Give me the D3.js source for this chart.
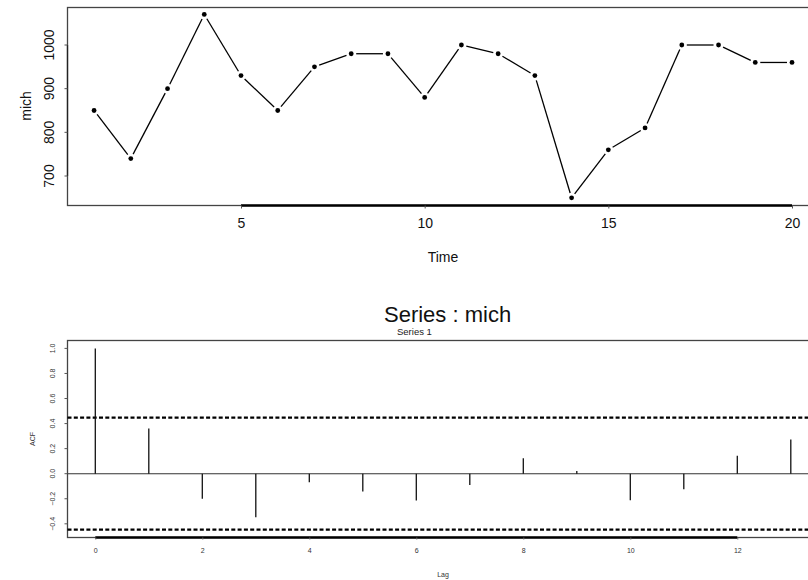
<!DOCTYPE html>
<html>
<head>
<meta charset="utf-8">
<script src="https://cdn.jsdelivr.net/npm/d3@7"></script>
<style>
  html, body { margin: 0; padding: 0; background: #fff; }
  svg { display: block; font-family: "Liberation Sans", Arial, Helvetica, sans-serif; }
</style>
</head>
<body>
<svg id="chart" width="808" height="580"></svg>
<script>
// Michelson speed-of-light measurements (first 20 runs, km/s minus 299000)
const times = d3.range(1, 21);
const mich = [850, 740, 900, 1070, 930, 850, 950, 980, 980, 880,
              1000, 980, 930, 650, 760, 810, 1000, 1000, 960, 960];
const timeTicks = [5, 10, 15, 20];
const michTicks = [700, 800, 900, 1000];

// Sample autocorrelations of the series by lag
const lags = d3.range(0, 14);
const acf = [1.0, 0.360, -0.199, -0.347, -0.068, -0.142, -0.213,
             -0.090, 0.124, 0.021, -0.211, -0.124, 0.144, 0.273];
const lagTicks = [0, 2, 4, 6, 8, 10, 12];
const acfTicks = [-0.4, -0.2, 0.0, 0.2, 0.4, 0.6, 0.8, 1.0];
const confBound = 0.447;

const svg = d3.select("#chart");

// ---------- upper panel: the time series ----------
const boxT = { left: 67.5, right: 840, top: 7.5, bottom: 205.5 };
const xT = d3.scaleLinear().domain([5, 20]).range([241, 792]);
const yT = d3.scaleLinear().domain([700, 1000]).range([176, 45]);

const gT = svg.append("g");

gT.append("rect")
  .attr("x", boxT.left).attr("y", boxT.top)
  .attr("width", boxT.right - boxT.left).attr("height", boxT.bottom - boxT.top)
  .attr("fill", "none").attr("stroke", "#444").attr("stroke-width", 1.3);

// bottom axis: thick line spanning the ticks
const axTB = d3.axisBottom(xT).tickValues(timeTicks).tickSize(3).tickPadding(10)
  .tickFormat(d3.format("d"));
const gxT = gT.append("g").attr("transform", `translate(0,${boxT.bottom})`).call(axTB);
gxT.select(".domain").attr("d", `M${xT(timeTicks[0])},0H${xT(timeTicks[timeTicks.length - 1])}`)
  .attr("stroke", "#000").attr("stroke-width", 2.4);
gxT.selectAll(".tick line").attr("stroke", "#555");
gxT.selectAll(".tick text").attr("font-size", 14).attr("fill", "#111")
  .attr("font-family", "Liberation Sans, Arial, sans-serif");

// left axis: rotated labels
const gyT = gT.append("g").attr("transform", `translate(${boxT.left},0)`);
gyT.append("path")
  .attr("d", `M0,${yT(michTicks[0])}V${yT(michTicks[michTicks.length - 1])}`)
  .attr("stroke", "#222").attr("stroke-width", 1.3);
michTicks.forEach(v => {
  gyT.append("line").attr("x1", -3).attr("x2", 0).attr("y1", yT(v)).attr("y2", yT(v))
    .attr("stroke", "#555");
  gyT.append("text")
    .attr("transform", `translate(-14,${yT(v)}) rotate(-90)`)
    .attr("text-anchor", "middle").attr("font-size", 14).attr("fill", "#111")
    .text(v);
});

gT.append("text").attr("x", 443).attr("y", 262).attr("text-anchor", "middle")
  .attr("font-size", 14).attr("fill", "#111").text("Time");
gT.append("text").attr("transform", "translate(31,106) rotate(-90)")
  .attr("text-anchor", "middle").attr("font-size", 14).attr("fill", "#111").text("mich");

// connecting segments with a gap around each point
const pts = times.map((t, i) => [xT(t), yT(mich[i])]);
const gap = 5;
const segs = [];
for (let i = 0; i < pts.length - 1; i++) {
  const [x1, y1] = pts[i], [x2, y2] = pts[i + 1];
  const len = Math.hypot(x2 - x1, y2 - y1);
  if (len <= 2 * gap) continue;
  const ux = (x2 - x1) / len, uy = (y2 - y1) / len;
  segs.push([x1 + ux * gap, y1 + uy * gap, x2 - ux * gap, y2 - uy * gap]);
}
gT.append("g").selectAll("line").data(segs).join("line")
  .attr("x1", d => d[0]).attr("y1", d => d[1]).attr("x2", d => d[2]).attr("y2", d => d[3])
  .attr("stroke", "#000").attr("stroke-width", 1.3);
gT.append("g").selectAll("circle").data(times).join("circle")
  .attr("cx", (t) => xT(t)).attr("cy", (t, i) => yT(mich[i])).attr("r", 2.4)
  .attr("fill", "#000");

// ---------- lower panel: the autocorrelation function ----------
const boxB = { left: 67.5, right: 840, top: 340.5, bottom: 537.5 };
const xB = d3.scaleLinear().domain([0, 12]).range([95.3, 737.3]);
const yB = d3.scaleLinear().domain([0, 1]).range([473.7, 348.4]);

const gB = svg.append("g");

gB.append("rect")
  .attr("x", boxB.left).attr("y", boxB.top)
  .attr("width", boxB.right - boxB.left).attr("height", boxB.bottom - boxB.top)
  .attr("fill", "none").attr("stroke", "#444").attr("stroke-width", 1.3);

gB.append("text").attr("x", 384).attr("y", 322).attr("font-size", 22).attr("fill", "#111")
  .text("Series : mich");
gB.append("text").attr("x", 397).attr("y", 335).attr("font-size", 9.5).attr("fill", "#222")
  .text("Series 1");

// zero reference line
gB.append("line").attr("x1", boxB.left).attr("x2", boxB.right)
  .attr("y1", yB(0)).attr("y2", yB(0)).attr("stroke", "#333").attr("stroke-width", 1.1);

// approximate 95% confidence bounds
[confBound, -confBound].forEach(c => {
  gB.append("line").attr("x1", boxB.left).attr("x2", boxB.right)
    .attr("y1", yB(c)).attr("y2", yB(c))
    .attr("stroke", "#000").attr("stroke-width", 2.2).attr("stroke-dasharray", "4,2.3");
});

// autocorrelation spikes
gB.append("g").selectAll("line").data(lags).join("line")
  .attr("x1", d => xB(d)).attr("x2", d => xB(d))
  .attr("y1", yB(0)).attr("y2", (d, i) => yB(acf[i]))
  .attr("stroke", "#111").attr("stroke-width", 1.3);

// bottom axis
const axBB = d3.axisBottom(xB).tickValues(lagTicks).tickSize(2).tickPadding(9)
  .tickFormat(d3.format("d"));
const gxB = gB.append("g").attr("transform", `translate(0,${boxB.bottom})`).call(axBB);
gxB.select(".domain").attr("d", `M${xB(lagTicks[0])},0H${xB(lagTicks[lagTicks.length - 1])}`)
  .attr("stroke", "#000").attr("stroke-width", 2.6);
gxB.selectAll(".tick line").attr("stroke", "#666");
gxB.selectAll(".tick text").attr("font-size", 7).attr("fill", "#333")
  .attr("font-family", "Liberation Sans, Arial, sans-serif");

// left axis, rotated labels
const gyB = gB.append("g").attr("transform", `translate(${boxB.left},0)`);
acfTicks.forEach(v => {
  gyB.append("line").attr("x1", -3).attr("x2", 0).attr("y1", yB(v)).attr("y2", yB(v))
    .attr("stroke", "#555");
  gyB.append("text")
    .attr("transform", `translate(-13,${yB(v)}) rotate(-90)`)
    .attr("text-anchor", "middle").attr("font-size", 7).attr("fill", "#333")
    .text(d3.format(".1f")(v));
});

gB.append("text").attr("x", 443).attr("y", 577).attr("text-anchor", "middle")
  .attr("font-size", 7).attr("fill", "#333").text("Lag");
gB.append("text").attr("transform", "translate(35,439) rotate(-90)")
  .attr("text-anchor", "middle").attr("font-size", 7).attr("fill", "#333").text("ACF");
</script>
</body>
</html>
